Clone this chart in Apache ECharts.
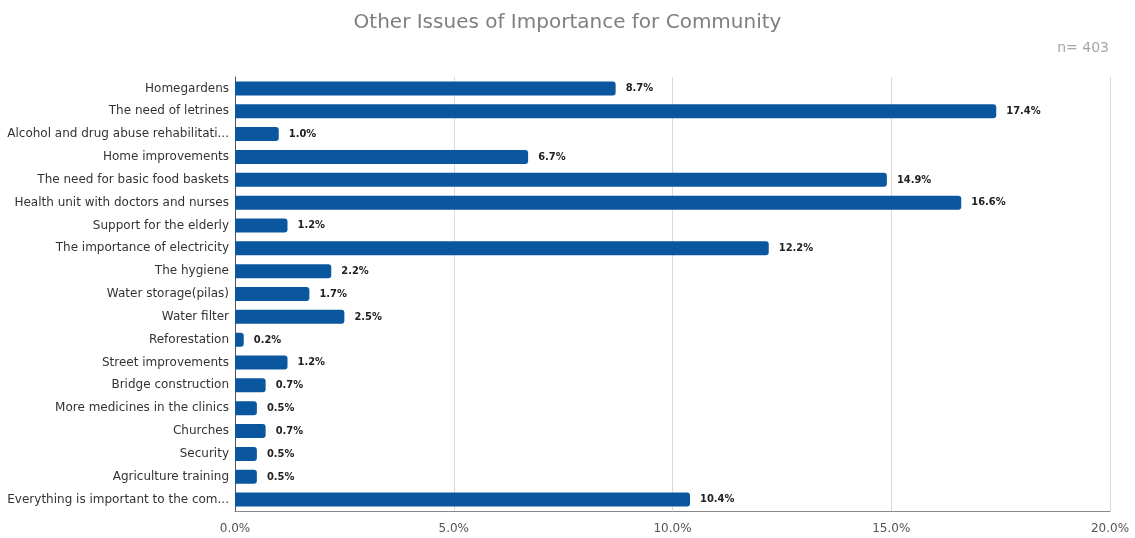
<!DOCTYPE html>
<html>
<head>
<meta charset="utf-8">
<script src="https://cdn.jsdelivr.net/npm/echarts@6/dist/echarts.min.js"></script>
<style>
  html, body { margin: 0; padding: 0; background: #fff; }
  #chart { width: 1135px; height: 538px; }
</style>
</head>
<body>
<div id="chart"></div>
<script>
// Issues named by respondents, top to bottom (long names shortened)
const categories = [
  'Homegardens',
  'The need of letrines',
  'Alcohol and drug abuse rehabilitati...',
  'Home improvements',
  'The need for basic food baskets',
  'Health unit with doctors and nurses',
  'Support for the elderly',
  'The importance of electricity',
  'The hygiene',
  'Water storage(pilas)',
  'Water filter',
  'Reforestation',
  'Street improvements',
  'Bridge construction',
  'More medicines in the clinics',
  'Churches',
  'Security',
  'Agriculture training',
  'Everything is important to the com...'
];
// Share of respondents (%)
const shares = [8.7, 17.4, 1.0, 6.7, 14.9, 16.6, 1.2, 12.2, 2.2, 1.7, 2.5, 0.2, 1.2, 0.7, 0.5, 0.7, 0.5, 0.5, 10.4];
const xTicks = [0, 5, 10, 15, 20];

const font = 'DejaVu Sans, Verdana, sans-serif';
const chart = echarts.init(document.getElementById('chart'), null, { renderer: 'canvas' });

chart.setOption({
  animation: false,
  textStyle: { fontFamily: font },
  title: [
    {
      text: 'Other Issues of Importance for Community',
      left: 'center',
      top: 8,
      textStyle: { fontFamily: font, fontSize: 20, fontWeight: 'normal', color: '#7f7f7f' }
    },
    {
      text: 'n= 403',
      right: 21,
      top: 36,
      textStyle: { fontFamily: font, fontSize: 14, fontWeight: 'normal', color: '#a6a6a6' }
    }
  ],
  grid: { left: 235, right: 25, top: 77, bottom: 27, containLabel: false },
  xAxis: {
    type: 'value',
    min: xTicks[0],
    max: xTicks[xTicks.length - 1],
    interval: xTicks[1] - xTicks[0],
    axisLine: { show: true, lineStyle: { color: '#888' } },
    axisTick: { show: false },
    splitLine: { show: true, lineStyle: { color: '#d9d9d9' } },
    axisLabel: {
      fontFamily: font, fontSize: 12, color: '#555', margin: 12,
      formatter: v => v.toFixed(1) + '%'
    }
  },
  yAxis: {
    type: 'category',
    inverse: true,
    data: categories,
    axisLine: { show: true, lineStyle: { color: '#555' } },
    axisTick: { show: false },
    axisLabel: {
      fontFamily: font, fontSize: 12, color: '#333', margin: 6
    }
  },
  series: [{
    type: 'bar',
    data: shares,
    barWidth: 14,
    itemStyle: { color: '#0a579f', borderRadius: [0, 3, 3, 0] },
    label: {
      show: true,
      position: 'right',
      distance: 10,
      fontFamily: 'DejaVu Sans Condensed, DejaVu Sans, sans-serif',
      fontSize: 11,
      fontWeight: 'bold',
      color: '#222',
      formatter: p => p.value.toFixed(1) + '%'
    }
  }]
});
</script>
</body>
</html>
